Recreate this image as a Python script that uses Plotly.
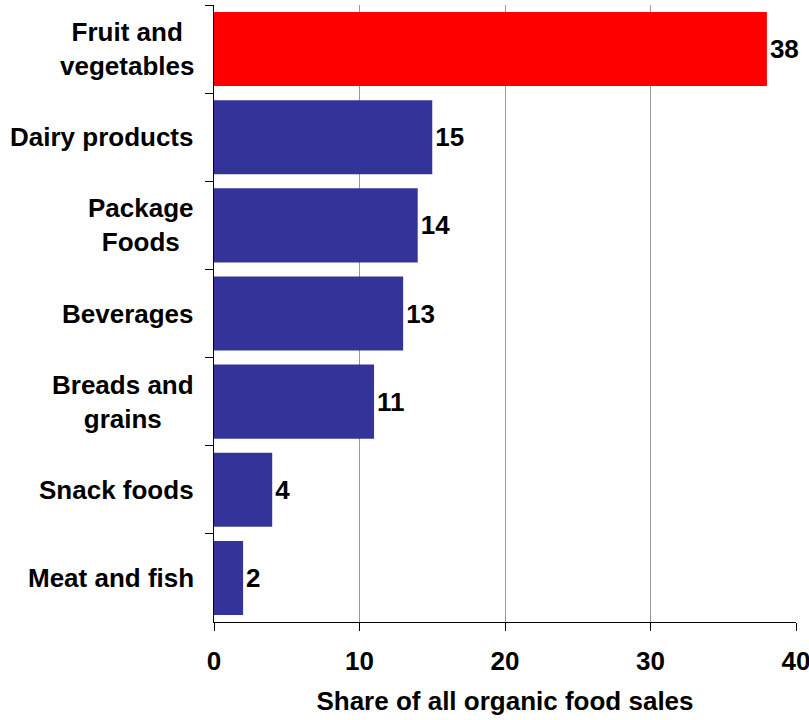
import plotly.graph_objects as go

categories = ["Fruit and<br>vegetables", "Dairy products", "Package<br>Foods", "Beverages",
              "Breads and<br>grains", "Snack foods", "Meat and fish"]
values = [38, 15, 14, 13, 11, 4, 2]
bar_colors = ["#FF0000", "#333399", "#333399", "#333399", "#333399", "#333399", "#333399"]
x_ticks = [0, 10, 20, 30, 40]
x_title = "Share of all organic food sales"

FONT = "Liberation Sans, Arial, sans-serif"

fig = go.Figure(go.Bar(
    x=values, y=categories, orientation="h",
    marker=dict(color=bar_colors, line=dict(width=0)),
    text=[str(v) for v in values], textposition="outside",
    textfont=dict(family=FONT, size=26, color="black"),
    texttemplate="<b>%{text}</b>",
    cliponaxis=False, constraintext="none",
))

for c in categories:
    fig.add_annotation(x=0, xref="paper", y=c, yref="y", text="<b>" + c + "</b>",
                       showarrow=False, xanchor="right", align="center",
                       xshift=-18, font=dict(family=FONT, size=26, color="black"))

fig.update_layout(
    width=809, height=720,
    margin=dict(l=214, r=13, t=5, b=98, autoexpand=False),
    paper_bgcolor="white", plot_bgcolor="white",
    bargap=0.16, showlegend=False,
    font=dict(family=FONT, size=26, color="black"),
)
fig.update_xaxes(
    range=[0, 40], tickvals=x_ticks, ticktext=["<b>%d</b>" % t for t in x_ticks],
    showgrid=True, gridcolor="#999999", gridwidth=1, zeroline=False,
    showline=True, linecolor="black", linewidth=1,
    ticks="outside", ticklen=8, tickcolor="black",
    ticklabeloverflow="allow", automargin=False, ticklabelstandoff=8,
    tickfont=dict(family=FONT, size=26, color="black"),
    title=dict(text="<b>" + x_title + "</b>", font=dict(family=FONT, size=26, color="black"), standoff=16),
)
fig.update_yaxes(
    categoryorder="array", categoryarray=categories, autorange="reversed",
    showticklabels=False, tickson="boundaries", ticks="outside", ticklen=8, tickcolor="black",
    showline=True, linecolor="black", linewidth=1, showgrid=False, zeroline=False,
    automargin=False,
)

fig.write_html("out.html", config={"displayModeBar": False},
               post_script="document.body.style.margin='0';document.body.style.overflow='hidden';")
